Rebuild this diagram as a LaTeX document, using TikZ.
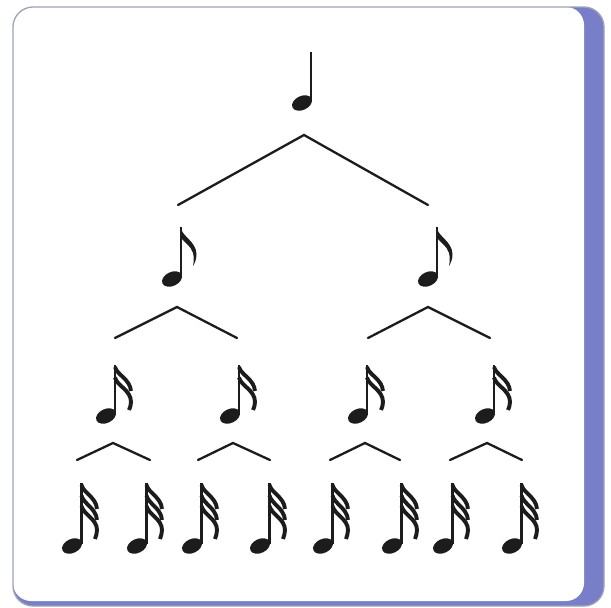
\documentclass[tikz,border=0pt]{standalone}
\definecolor{framegray}{RGB}{160,162,182}
\definecolor{bandblue}{RGB}{120,127,200}
\definecolor{ink}{RGB}{28,28,28}
\tikzset{
  stemline/.style={draw=ink, line width=2.2pt},
  flagline/.style={draw=ink, line width=3.9pt},
  branch/.style={draw=ink, line width=2.3pt, line join=miter, line cap=round},
  notehead/.pic={\fill[ink, rotate=25] (0,0) ellipse [x radius=10.5, y radius=7];},
  quarter/.pic={
    \pic {notehead};
    \draw[stemline] (9,-2) -- (9,-51);
  },
  eighth/.pic={
    \pic {notehead};
    \draw[stemline] (9,-2) -- (9,-52);
    \fill[ink] (7.9,-53) .. controls (10,-42) and (24,-38) .. (24.5,-25)
      .. controls (24.5,-21) and (23.5,-17) .. (21,-13)
      .. controls (22,-18) and (22,-22) .. (21,-26)
      .. controls (19,-33) and (13,-36) .. (10,-40) -- cycle;
  },
  sixteenth/.pic={
    \pic {notehead};
    \draw[stemline] (9,-2) -- (9,-51);
    \draw[flagline] (9,-49) .. controls (11,-41) and (24,-37) .. (25,-25);
    \draw[flagline] (9,-38.5) .. controls (11,-30) and (25,-26) .. (25,-14)
      .. controls (25,-11) and (24,-8) .. (23,-6);
  },
  thirtysecond/.pic={
    \pic {notehead};
    \draw[stemline] (9.5,-2) -- (9.5,-63);
    \draw[flagline] (9.5,-61) .. controls (11.5,-53) and (24,-49) .. (25,-37);
    \draw[flagline] (9.5,-50.5) .. controls (11.5,-42) and (24,-38) .. (25,-26);
    \draw[flagline] (9.5,-40) .. controls (11.5,-31.5) and (25,-27) .. (25,-16)
      .. controls (25,-13) and (24,-10) .. (23,-7);
  }
}
\begin{document}
\begin{tikzpicture}[x=1pt, y=-1pt]
  \useasboundingbox (0,0) rectangle (611,608);
  % frame
  \fill[bandblue, rounded corners=20pt] (13,7) rectangle (604,606);
  \fill[white, rounded corners=18pt] (13,7) rectangle (584,601);
  \draw[framegray, line width=1.3pt, rounded corners=20pt] (13,7) rectangle (604,606);

  % notes
  \pic (q) at (302,103) {quarter};
  \pic (e1) at (172,279) {eighth};
  \pic (e2) at (428,279) {eighth};
  \foreach \x [count=\i] in {106,230,358,485} {
    \pic (s\i) at (\x,416) {sixteenth};
  }
  \foreach \x [count=\i] in {72,137,192,260,323,392,443,512} {
    \pic (t\i) at (\x,546) {thirtysecond};
  }

  % branch points
  \coordinate (a0) at (304,135);
  \coordinate (l0) at (178,205);
  \coordinate (r0) at (428,205);
  \coordinate (a1) at (177,307);
  \coordinate (l1) at (115,338);
  \coordinate (r1) at (237,338);
  \coordinate (a2) at (428,307);
  \coordinate (l2) at (368,338);
  \coordinate (r2) at (490,338);
  \foreach \ax/\lx/\rx [count=\i] in {113/77/150, 233/198/270, 365/330/400, 487/450/522} {
    \coordinate (b\i) at (\ax,443);
    \coordinate (bl\i) at (\lx,460);
    \coordinate (br\i) at (\rx,460);
  }

  % branches
  \draw[branch] (l0) -- (a0) -- (r0);
  \draw[branch] (l1) -- (a1) -- (r1);
  \draw[branch] (l2) -- (a2) -- (r2);
  \foreach \i in {1,...,4} {
    \draw[branch] (bl\i) -- (b\i) -- (br\i);
  }
\end{tikzpicture}
\end{document}
